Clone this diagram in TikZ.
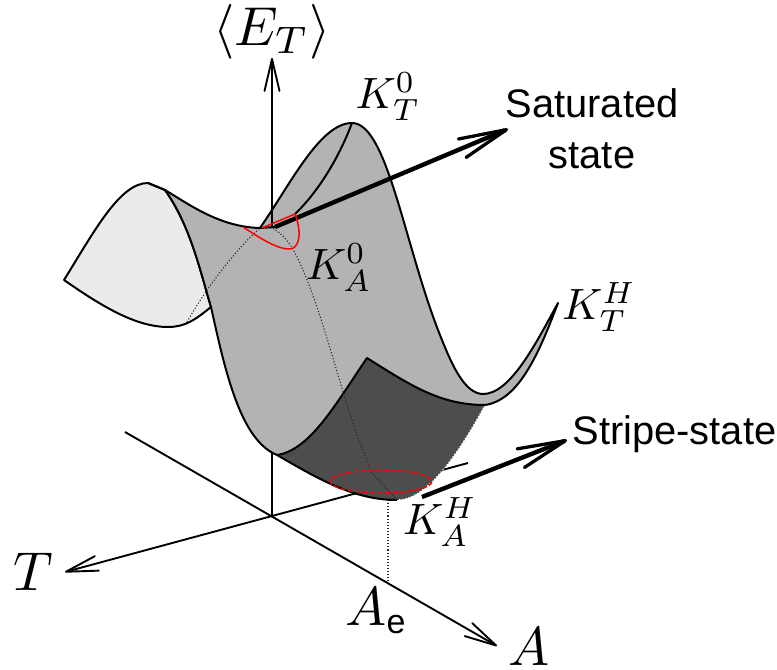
\documentclass[tikz,border=0pt]{standalone}
\usepackage{fontspec}
\usepackage{graphicx}
\newfontfamily\labfont{Liberation Sans}
\usetikzlibrary{arrows.meta}
\definecolor{wing}{HTML}{EBEBEB}
\definecolor{mid}{HTML}{B3B3B3}
\definecolor{deep}{HTML}{4D4D4D}
\newcommand{\bigmath}[1]{\scalebox{4.4}{$#1$}}
\newcommand{\hugemath}[1]{\scalebox{5.5}{$#1$}}
\tikzset{
  axis/.style={line width=1.9pt,-{Straight Barb[round,length=32bp,width=15bp,line width=1.9pt]}},
  axisplain/.style={line width=1.9pt},
  edge/.style={line width=2pt,line join=round},
  hidden/.style={line width=1.1pt,dotted,black!85},
  bigarrow/.style={line width=4.4pt,-{Straight Barb[round,length=48bp,width=20bp,line width=3.3pt]}},
  mathlabel/.style={inner sep=0pt},
  textlabel/.style={inner sep=0pt,align=center,font=\labfont\fontsize{40}{51}\selectfont},
}
\begin{document}
\begin{tikzpicture}[x=1bp,y=-1bp]
\useasboundingbox (0,0) rectangle (777,670);
% named points
\coordinate (O) at (272,517);
\coordinate (Ztop) at (272,58);
\coordinate (Zmid) at (272,200);
\coordinate (Zs) at (272,227);
\coordinate (Tend) at (65,572);
\coordinate (Tback) at (468,463);
\coordinate (Aend) at (497,646);
\coordinate (Aback) at (125,432);
\coordinate (Corner) at (64,280);
\coordinate (Lpeak) at (148,183);
\coordinate (Lr) at (165,190);
\coordinate (Lmin) at (168,327);
\coordinate (Lb) at (211,307);
\coordinate (Sad) at (260,228);
\coordinate (Sad2) at (275,227);
\coordinate (Peak) at (352,123);
\coordinate (Rmin) at (483,394);
\coordinate (Tip) at (558,303);
\coordinate (Rim) at (485,405);
\coordinate (Dk) at (367,358);
\coordinate (Dl) at (277,455);
\coordinate (Db) at (397,500);
\coordinate (Rtop) at (295,214);
\coordinate (Foot) at (388,582);
\coordinate (Footb) at (388,500);
% axes
\draw[axis] (O) -- (Ztop);
\draw[axis] (Tback) -- (Tend);
\draw[axis] (Aback) -- (Aend);
% left wing
\path[fill=wing,draw=black,edge] (Corner) .. controls (95,230) and (120,183) .. (Lpeak)
  -- (Lr) .. controls (190,225) and (200,270) .. (Lb)
  .. controls (195,320) and (185,327) .. (Lmin)
  .. controls (135,327) and (100,305) .. cycle;
% main surface
\path[fill=mid] (Lr) .. controls (190,205) and (220,227) .. (Sad)
  .. controls (290,185) and (320,123) .. (Peak)
  .. controls (388,123) and (405,250) .. (442,340)
  .. controls (452,365) and (465,394) .. (Rmin)
  .. controls (510,394) and (535,345) .. (Tip)
  .. controls (540,350) and (520,400) .. (Rim)
  .. controls (440,405) and (410,385) .. (Dk)
  .. controls (335,405) and (310,450) .. (Dl)
  .. controls (240,440) and (225,370) .. (Lb)
  .. controls (200,270) and (190,225) .. cycle;
% dark patch
\path[fill=deep] (Dl) .. controls (310,450) and (335,405) .. (Dk)
  .. controls (410,385) and (440,405) .. (Rim)
  .. controls (455,460) and (425,500) .. (Db)
  .. controls (355,500) and (320,480) .. cycle;
\draw[white,line width=1.2pt,dotted] (Rim) .. controls (455,460) and (425,500) .. (Db);
% outlines
\draw[edge] (Lpeak) -- (Lr) .. controls (190,205) and (220,227) .. (Sad) -- (Sad2);
\draw[edge] (Sad) .. controls (290,185) and (320,123) .. (Peak)
  .. controls (388,123) and (405,250) .. (442,340)
  .. controls (452,365) and (465,394) .. (Rmin)
  .. controls (510,394) and (535,345) .. (Tip)
  .. controls (540,350) and (520,400) .. (Rim);
\draw[edge] (Rtop) .. controls (320,190) and (340,155) .. (Peak);
\draw[edge] (Lr) .. controls (190,225) and (200,270) .. (Lb)
  .. controls (225,370) and (240,440) .. (Dl);
\draw[edge] (Dl) .. controls (310,450) and (335,405) .. (Dk)
  .. controls (410,385) and (440,405) .. (Rim);
\draw[edge] (Dl) .. controls (320,480) and (355,500) .. (Db);
\draw[axisplain] (Zs) -- (Zmid);
% hidden lines
\draw[hidden] (187,322) .. controls (205,290) and (235,250) .. (Sad)
  .. controls (268,226) and (278,226) .. (293,249)
  .. controls (325,310) and (340,400) .. (372,473)
  -- (Db);
\draw[hidden] (Footb) -- (Foot);
% state arrows
\draw[bigarrow] (Sad2) -- (508,129);
\draw[bigarrow] (422,497) -- (567,440);
% red marks
\draw[red,line width=1.5pt,line join=round] (243,227) .. controls (260,238) and (278,250) .. (291,249)
  .. controls (301,246) and (301,230) .. (Rtop) -- (262,228);
\draw[red,line width=1.4pt,dash pattern=on 5pt off 2.5pt] (381,481.5) ellipse [x radius=51,y radius=11.5];
% labels
\node[mathlabel] (lE) at (272,32) {\hugemath{\langle E_T\rangle}};
\node[mathlabel] (lK0T) at (388,97) {\bigmath{K_T^0}};
\node[mathlabel] (lK0A) at (339,268) {\bigmath{K_A^0}};
\node[mathlabel] (lKHT) at (599,307) {\bigmath{K_T^H}};
\node[mathlabel] (lKHA) at (440,522) {\bigmath{K_A^H}};
\node[mathlabel] (lAe) at (377,611) {\hugemath{A_{\hbox{\labfont\fontsize{6.2}{7}\selectfont e}}}};
\node[mathlabel] (lT) at (33,572) {\hugemath{T}};
\node[mathlabel] (lA) at (529,647) {\hugemath{A}};
\node[textlabel] (lSat) at (592,129) {Saturated\\state};
\node[textlabel] (lStr) at (674.5,434) {Stripe-state};
\end{tikzpicture}
\end{document}
